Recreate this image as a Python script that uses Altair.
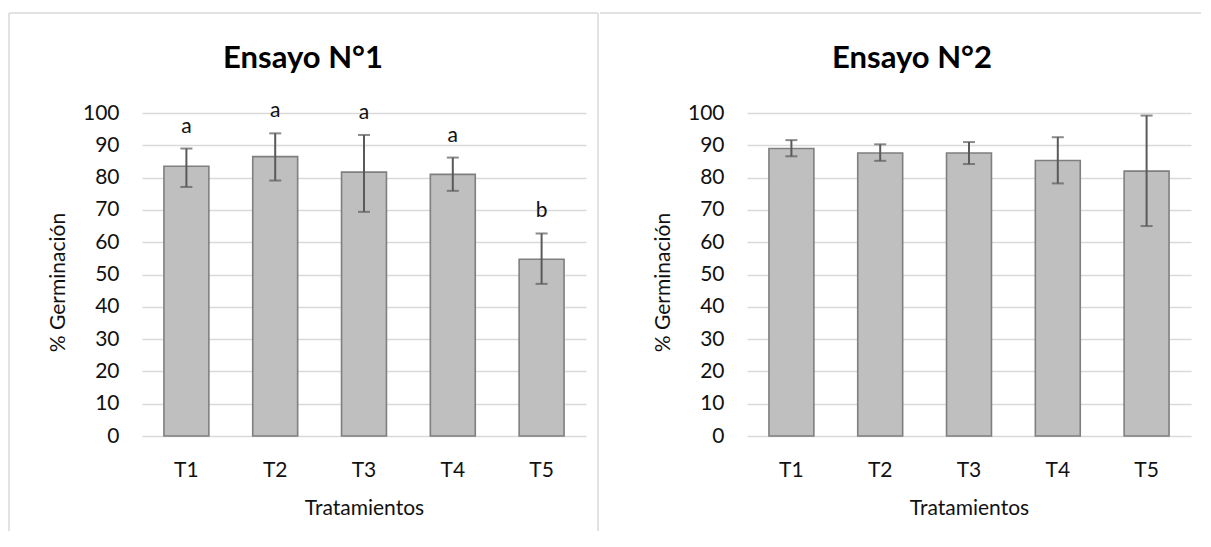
import altair as alt
import pandas as pd

# ---- data ----
tratamientos = ["T1", "T2", "T3", "T4", "T5"]

e1_media = [83.5, 86.5, 81.7, 81.0, 54.7]
e1_inf = [77.1, 79.1, 69.4, 75.9, 47.1]
e1_sup = [89.0, 93.7, 93.2, 86.2, 62.7]
e1_letras = ["a", "a", "a", "a", "b"]

e2_media = [89.0, 87.6, 87.6, 85.3, 82.0]
e2_inf = [86.6, 85.2, 84.2, 78.2, 65.0]
e2_sup = [91.6, 90.3, 91.0, 92.5, 99.2]

y_ticks = list(range(0, 101, 10))

FONT = "Lato"
BAR_FILL = "#bfbfbf"
BAR_STROKE = "#7f7f7f"
ERR = "#5a5a5a"
GRID = "#d9d9d9"
TXT = "#111111"

deco = pd.DataFrame({"d": [0]})


def build(media, inf, sup, letras, titulo, title_dx, vlines, hline, anchor_x):
    df = pd.DataFrame({"trat": tratamientos, "media": media, "inf": inf, "sup": sup})
    if letras is not None:
        df["letra"] = letras

    x_enc = alt.X(
        "trat:N",
        sort=tratamientos,
        scale=alt.Scale(paddingInner=0, paddingOuter=0),
        axis=alt.Axis(
            title="Tratamientos",
            labelAngle=0,
            ticks=False,
            domain=False,
            grid=False,
            labelPadding=23,
            titlePadding=17,
        ),
    )
    y_scale = alt.Scale(domain=[0, 100], nice=False)
    y_axis = alt.Axis(
        title="% Germinación",
        values=y_ticks,
        grid=True,
        gridColor=GRID,
        gridWidth=1.4,
        domain=False,
        ticks=False,
        labelPadding=23,
        titlePadding=14,
        titleY=169,
    )

    def Y(field):
        return alt.Y(field, scale=y_scale, axis=y_axis, title="% Germinación")

    base = alt.Chart(df).encode(x=x_enc)

    bars = base.mark_bar(
        width={"band": 0.506}, fill=BAR_FILL, stroke=BAR_STROKE, strokeWidth=1.6
    ).encode(y=Y("media:Q"))
    err = base.mark_rule(color=ERR, strokeWidth=2).encode(y=Y("inf:Q"), y2="sup:Q")
    cap_hi = base.mark_tick(color=ERR, size=12, thickness=2).encode(y=Y("sup:Q"))
    cap_lo = base.mark_tick(color=ERR, size=12, thickness=2).encode(y=Y("inf:Q"))
    layers = [bars, err, cap_hi, cap_lo]
    if letras is not None:
        txt = base.mark_text(
            font=FONT, fontSize=21, dy=-16, baseline="alphabetic", color=TXT
        ).encode(y=Y("sup:Q"), text="letra:N")
        layers.append(txt)

    # decorative panel frame
    d = alt.Chart(deco)
    deco_layers = [
        d.mark_rule(color=GRID, strokeWidth=1.5).encode(
            x=alt.value(hline[0]), x2=alt.value(hline[1]), y=alt.value(-100)
        ),
        d.mark_rule(strokeOpacity=0, strokeWidth=0.1).encode(
            x=alt.value(anchor_x), y=alt.value(-100), y2=alt.value(0)
        ),
    ]
    for vx in vlines:
        deco_layers.append(
            d.mark_rule(color=GRID, strokeWidth=1.5).encode(
                x=alt.value(vx), y=alt.value(-100), y2=alt.value(418)
            )
        )
    return alt.layer(*deco_layers, *layers).properties(
        width=444,
        height=323,
        title=alt.TitleParams(
            titulo,
            font=FONT,
            fontSize=31,
            fontWeight="bold",
            color="#000000",
            anchor="middle",
            baseline="alphabetic",
            dx=title_dx,
            offset=-87,
        ),
    )


left = build(e1_media, e1_inf, e1_sup, e1_letras, "Ensayo N°1", -61,
             vlines=[-133, 456], hline=(-133, 456), anchor_x=-133)
right = build(e2_media, e2_inf, e2_sup, None, "Ensayo N°2", -57,
              vlines=[], hline=(-147, 454), anchor_x=-147)

chart = (
    alt.hconcat(left, right, spacing=0)
    .properties(padding={"left": 0, "top": 4, "right": 0, "bottom": 0})
    .configure_view(stroke=None)
    .configure_axis(
        labelFont=FONT,
        titleFont=FONT,
        labelFontSize=21,
        titleFontSize=21,
        titleFontWeight="normal",
        labelColor=TXT,
        titleColor=TXT,
    )
)

chart.save("out.html", embed_options={"renderer": "svg", "actions": False})
